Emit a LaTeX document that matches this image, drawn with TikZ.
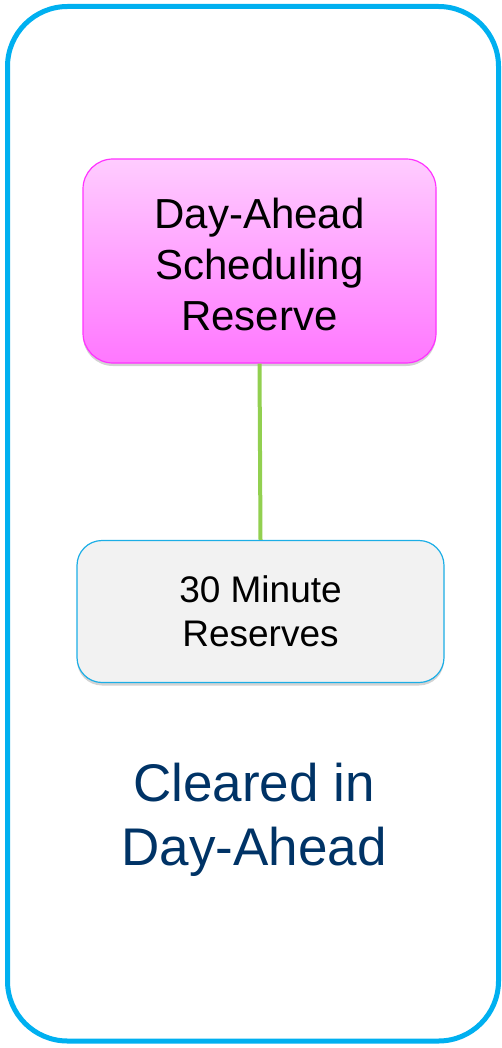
\documentclass[tikz,border=0pt]{standalone}
\usepackage{fontspec}
\setmainfont{Liberation Sans}
\usetikzlibrary{shadows}

\definecolor{frameblue}{HTML}{00B0F0}
\definecolor{pinktop}{HTML}{FFCCFF}
\definecolor{pinkbot}{HTML}{FF77FF}
\definecolor{pinkedge}{HTML}{FF33FF}
\definecolor{boxgray}{HTML}{F2F2F2}
\definecolor{boxedge}{HTML}{1CAEE6}
\definecolor{linkgreen}{HTML}{92D050}
\definecolor{navytext}{HTML}{003366}

\tikzset{
  outerframe/.style={draw=frameblue, line width=5pt, rounded corners=60pt},
  reservebox/.style={draw=pinkedge, line width=1.2pt, rounded corners=30pt,
    top color=pinktop, bottom color=pinkbot,
    minimum width=353pt, minimum height=204pt, inner sep=0pt,
    drop shadow={opacity=0.35, shadow xshift=0pt, shadow yshift=-3pt}},
  boxtext/.style={align=center, inner sep=0pt},
  productbox/.style={draw=boxedge, line width=1.2pt, rounded corners=25pt,
    fill=boxgray, minimum width=367pt, minimum height=142pt, align=center,
    inner sep=0pt,
    drop shadow={opacity=0.35, shadow xshift=0pt, shadow yshift=-3pt}},
  link/.style={draw=linkgreen, line width=4pt},
  caption/.style={text=navytext, align=center, inner sep=0pt}
}

\begin{document}
\begin{tikzpicture}[x=1pt, y=-1pt]
  \useasboundingbox (0,0) rectangle (501,1048);

  % outer frame
  \draw[outerframe] (7.5,6.5) rectangle (498.5,1041);

  % reserve products
  \node[reservebox,
    label={[boxtext, font=\fontsize{42}{51}\selectfont, yshift=-3pt]center:
      Day-Ahead\\Scheduling\\Reserve}] (dasr) at (259.5,261) {};
  \node[productbox, font=\fontsize{37}{44}\selectfont] (thirty) at (260.5,611.5)
    {30 Minute\\Reserves};

  % link between the two products
  \draw[link] (dasr.south) -- (thirty.north);

  % market label
  \node[caption, font=\fontsize{53}{64}\selectfont] (cleared) at (254,820)
    {Cleared in\\Day-Ahead};
\end{tikzpicture}
\end{document}
